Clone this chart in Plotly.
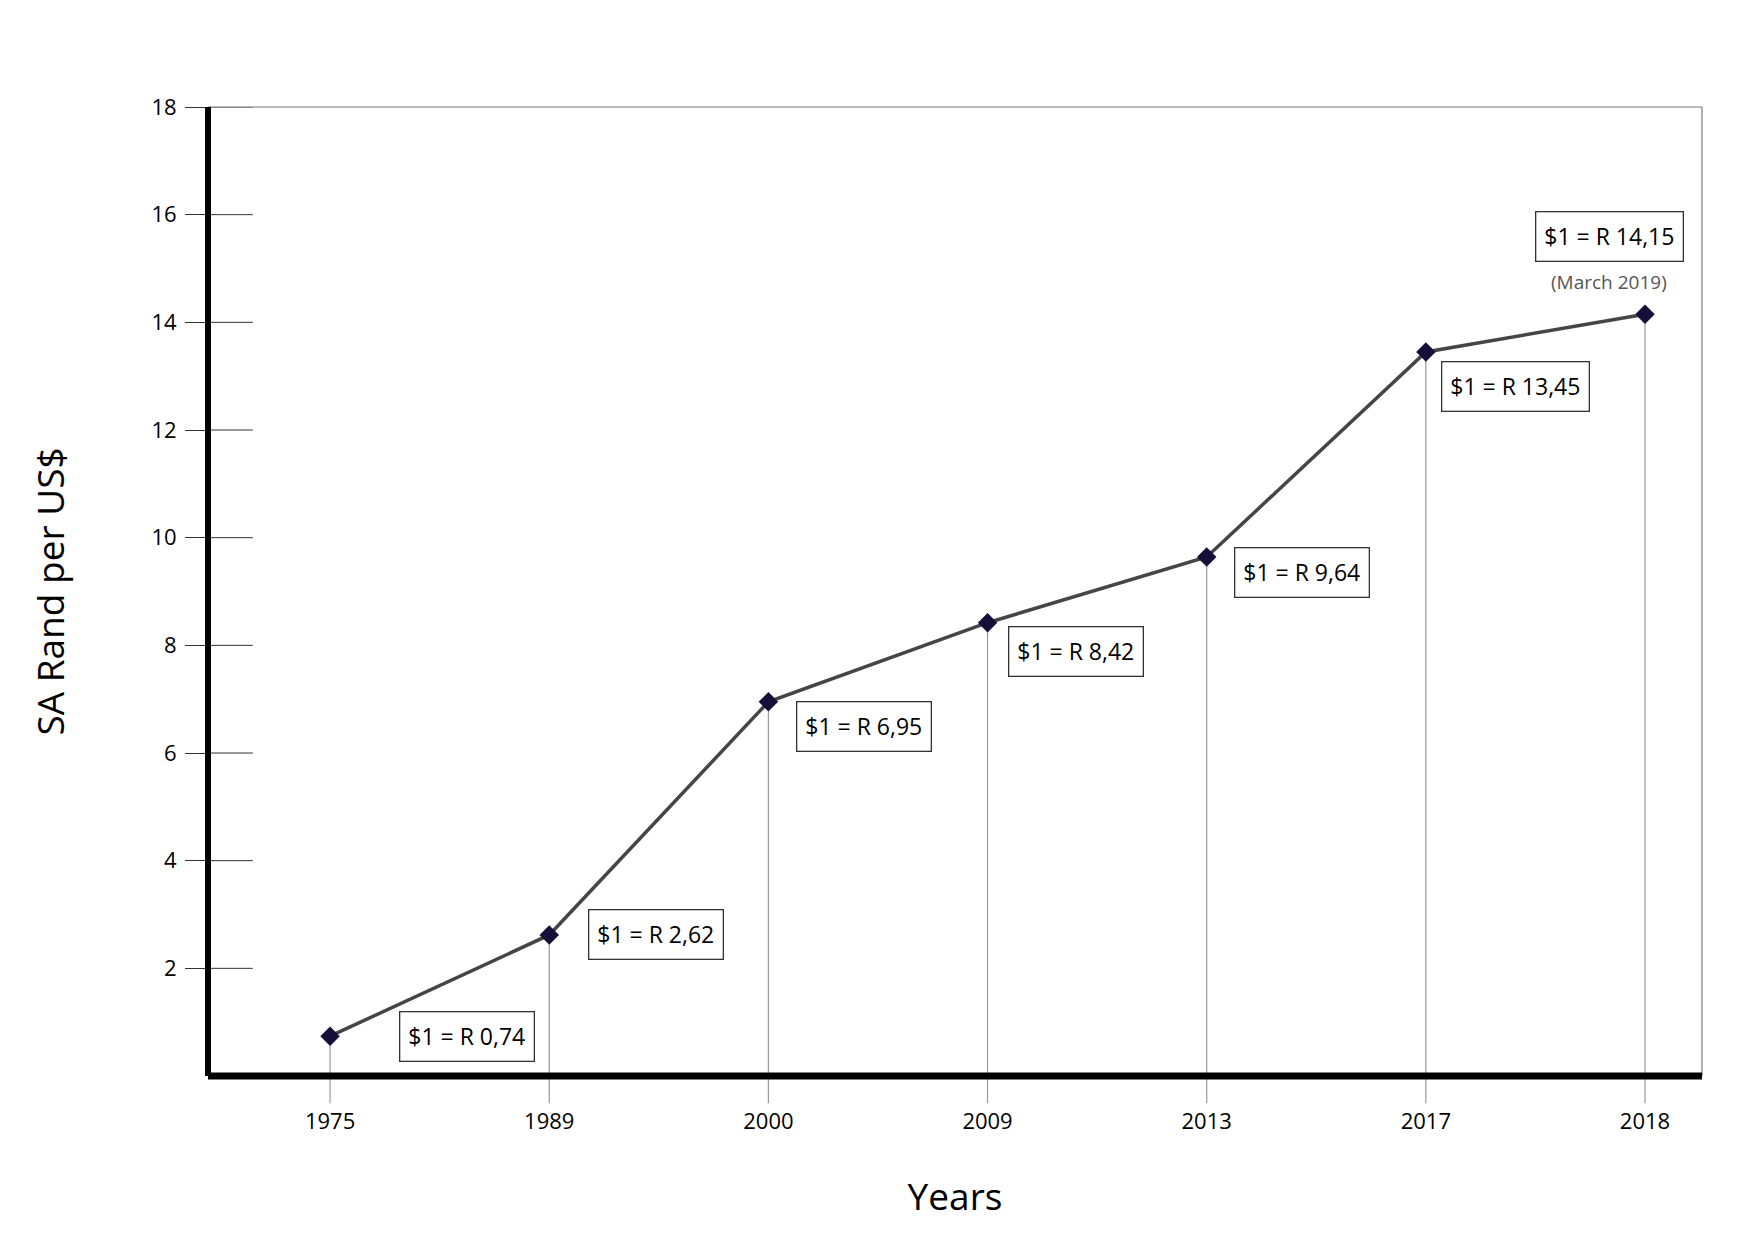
import plotly.graph_objects as go

years = ["1975", "1989", "2000", "2009", "2013", "2017", "2018"]
rand = [0.74, 2.62, 6.95, 8.42, 9.64, 13.45, 14.15]
labels = ["$1 = R 0,74", "$1 = R 2,62", "$1 = R 6,95", "$1 = R 8,42", "$1 = R 9,64", "$1 = R 13,45", "$1 = R 14,15"]
yticks = [2, 4, 6, 8, 10, 12, 14, 16, 18]

xs = list(range(len(years)))
font = "Open Sans, Lato, sans-serif"
YMAX = 18

fig = go.Figure()
fig.add_trace(go.Scatter(x=xs, y=rand, mode="lines+markers",
                         line=dict(color="#454545", width=3.5),
                         marker=dict(symbol="diamond", size=15, color="#15103a"),
                         cliponaxis=False))

shapes = []
for x, v in zip(xs, rand):
    shapes.append(dict(type="line", x0=x, x1=x, y0=-0.028, y1=v / YMAX, xref="x", yref="paper",
                       line=dict(color="#999999", width=1.2), layer="below"))
for t in yticks:
    shapes.append(dict(type="line", x0=0, x1=0.03, y0=t, y1=t, xref="paper", yref="y",
                       line=dict(color="#333333", width=1)))
shapes.append(dict(type="line", x0=0, x1=1, y0=1, y1=1, xref="paper", yref="paper", line=dict(color="#777", width=1.2)))
shapes.append(dict(type="line", x0=1, x1=1, y0=0, y1=1, xref="paper", yref="paper", line=dict(color="#777", width=1.2)))
shapes.append(dict(type="line", x0=0, x1=0, y0=0, y1=1, xref="paper", yref="paper", line=dict(color="black", width=6)))
shapes.append(dict(type="line", x0=0, x1=1, y0=0, y1=0, xref="paper", yref="paper", line=dict(color="black", width=7)))

offsets = [(137, 0), (107, 0), (96, -25), (88, -29), (95, -15), (90, -35), (-36, 78)]
anns = []
for x, v, lab, (dx, dy) in zip(xs, rand, labels, offsets):
    anns.append(dict(x=x, y=v, xref="x", yref="y", text=lab, showarrow=False,
                     xshift=dx, yshift=dy, font=dict(size=23, color="black", family=font),
                     bordercolor="#333", borderwidth=1.3, borderpad=8, bgcolor="white"))
anns.append(dict(x=xs[-1], y=rand[-1], xref="x", yref="y", text="(March 2019)", showarrow=False,
                 xshift=-36, yshift=32, font=dict(size=19, color="#555", family=font)))

fig.update_layout(
    width=1754, height=1240, plot_bgcolor="white", paper_bgcolor="white",
    margin=dict(l=200, r=60, t=99, b=172),
    showlegend=False, shapes=shapes, annotations=anns,
    font=dict(family=font, color="black"),
    xaxis=dict(range=[-0.557, 6.26], tickvals=xs, ticktext=years, showgrid=False, zeroline=False,
               ticks="", tickfont=dict(size=22), ticklabelstandoff=30,
               title=dict(text="Years", font=dict(size=37), standoff=50)),
    yaxis=dict(range=[0, YMAX], tickvals=yticks, showgrid=False, zeroline=False,
               ticks="outside", ticklen=22, tickcolor="#333", tickwidth=1,
               tickfont=dict(size=22), ticklabelstandoff=4,
               title=dict(text="SA Rand per US$", font=dict(size=37), standoff=75)),
)
fig.write_html("out.html")
